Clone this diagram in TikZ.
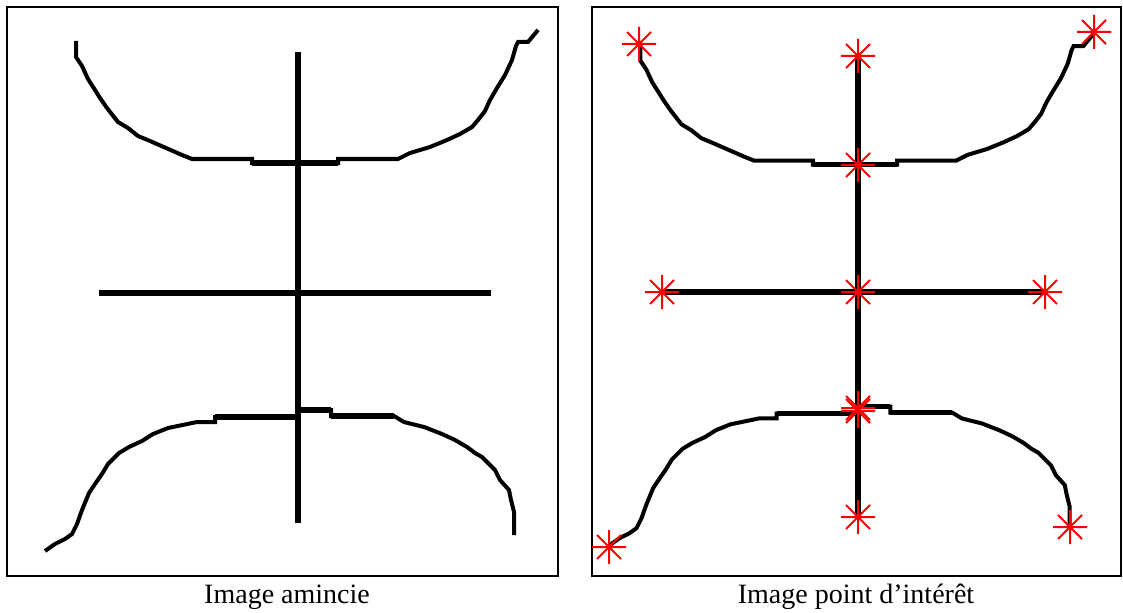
\documentclass[tikz,border=0pt]{standalone}
\usepackage{fontspec}
\setmainfont{Liberation Serif}
\begin{document}
\begin{tikzpicture}[x=0.75pt,y=-0.75pt,
  frame/.style={draw=black,line width=1.6pt},
  stem/.style={draw=black,line width=3.8pt},
  skel/.style={draw=black,line width=3pt,line join=miter},
  thick seg/.style={draw=black,line width=4.2pt},
  caption/.style={font=\fontsize{21}{24}\selectfont,anchor=base,inner sep=0pt},
  ipoint/.pic={\draw[red,line width=1.5pt] (-17,0)--(17,0) (0,-17)--(0,17) (-12,-12)--(12,12) (-12,12)--(12,-12);}
]
\useasboundingbox (0,0) rectangle (1123,613);
\newcommand{\skeleton}{%
  \draw[stem] (298,52) -- (298,523);
  \draw[stem] (99,293) -- (491,293);
  \draw[skel] (76,41) -- (76,57) -- (82,66) -- (88,79) -- (95,90) -- (100,98) -- (107,108) -- (114,117) -- (118,122) -- (128,128) -- (138,136) -- (150,141) -- (166,148) -- (182,155) -- (192,159) -- (252,159) -- (252,163) -- (338,163) -- (338,159) -- (398,159) -- (410,153) -- (430,147) -- (447,140) -- (460,134) -- (472,127) -- (478,120) -- (485,111) -- (490,100) -- (497,88) -- (505,75) -- (512,60) -- (516,46) -- (518,42) -- (528,42) -- (538,30);
  \draw[thick seg] (252,163) -- (338,163);
  \draw[skel] (45,551) -- (55,544) -- (65,539) -- (72,534) -- (77,524) -- (82,510) -- (89,493) -- (95,484) -- (102,474) -- (108,464) -- (119,453) -- (129,447) -- (142,441) -- (153,434) -- (168,428) -- (197,422) -- (215,422) -- (215,417) -- (298,417) -- (298,410) -- (331,410) -- (331,416) -- (394,416) -- (404,422) -- (424,427) -- (442,434) -- (455,440) -- (467,447) -- (475,453) -- (482,457) -- (488,463) -- (495,470) -- (500,480) -- (509,490) -- (511,500) -- (514,512) -- (514,535);
  \draw[thick seg] (215,417) -- (298,417);
  \draw[thick seg] (298,410) -- (331,410);
  \draw[thick seg] (331,416) -- (394,416);
}
% left panel
\draw[frame] (7,7) rectangle (558,576);
\skeleton
\node[caption] (capL) at (287,603) {Image amincie};
% right panel
\draw[frame] (592,7) rectangle (1121,576);
\begin{scope}[shift={(565.96,4.86)},scale=0.98]
\skeleton
\end{scope}
\foreach \p/\q [count=\i] in {639/44,858/56,1094/32,858/165,662/292,858/292,1045/292,858/408,858/411,609/547,858/517,1070/527}
  \pic (pt\i) at (\p,\q) {ipoint};
\node[caption] (capR) at (856,603) {Image point d’intérêt};
\end{tikzpicture}
\end{document}
